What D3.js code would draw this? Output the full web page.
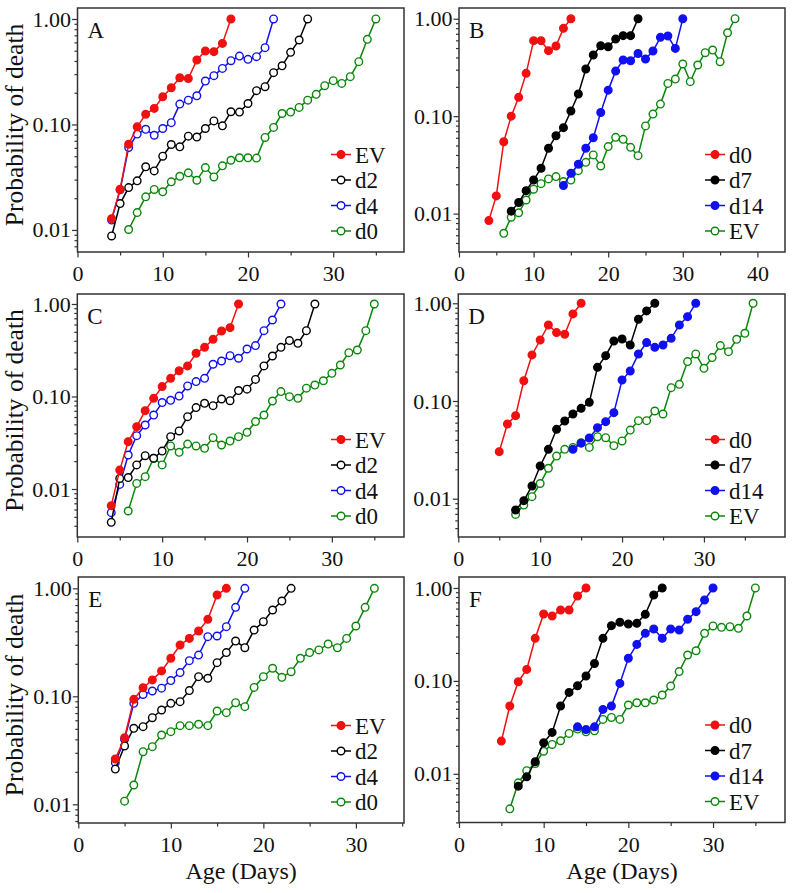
<!DOCTYPE html>
<html>
<head>
<meta charset="utf-8">
<script src="https://cdn.jsdelivr.net/npm/d3@7"></script>
<style>
  body { margin: 0; background: #fff; }
  text { font-family: "Liberation Serif", "Times New Roman", serif; fill: #111; }
</style>
</head>
<body>
<svg width="794" height="893"></svg>
<script>
// probability of death by age (days); each series starts at its first day
var A_EV = [0.0128,0.0243,0.065,0.095,0.125,0.142,0.183,0.223,0.277,0.273,0.408,0.497,0.490,0.587,1.00];
var A_d2 = [0.00877,0.0178,0.0252,0.0292,0.0397,0.0363,0.050,0.0646,0.0614,0.0775,0.076,0.0916,0.108,0.097,0.132,0.131,0.158,0.209,0.228,0.31,0.36,0.483,0.632,1.00];
var A_d4 = [0.0124,0.024,0.0605,0.081,0.090,0.079,0.0916,0.104,0.156,0.170,0.187,0.258,0.290,0.340,0.402,0.445,0.414,0.439,0.535,1.00];
var A_d0 = [0.0101,0.0146,0.0206,0.0242,0.023,0.0286,0.0323,0.0348,0.0296,0.039,0.0318,0.0405,0.0458,0.0483,0.0483,0.048,0.0753,0.0937,0.127,0.131,0.145,0.170,0.193,0.233,0.26,0.245,0.284,0.394,0.641,1.00];

var B_d0 = [0.00848,0.0152,0.0547,0.100,0.156,0.275,0.595,0.595,0.47,0.525,0.796,1.00];
var B_d7 = [0.0106,0.013,0.0172,0.0221,0.0292,0.0468,0.063,0.0762,0.113,0.169,0.305,0.424,0.528,0.516,0.618,0.67,0.67,1.00];
var B_d14 = [0.0194,0.0259,0.0321,0.0468,0.06,0.109,0.185,0.29,0.377,0.37,0.44,0.386,0.466,0.644,0.664,0.496,1.00];
var B_EV = [0.00628,0.00918,0.0102,0.0138,0.0178,0.0203,0.0227,0.024,0.0213,0.0221,0.0276,0.0336,0.04,0.0308,0.0487,0.0606,0.0578,0.0479,0.0393,0.0794,0.105,0.133,0.217,0.24,0.343,0.226,0.335,0.448,0.477,0.362,0.718,1.00];

var C_EV = [0.0066,0.016,0.0325,0.0472,0.0703,0.0955,0.128,0.157,0.19,0.214,0.293,0.34,0.415,0.511,0.555,1.00];
var C_d2 = [0.00436,0.013,0.0133,0.0182,0.0229,0.0215,0.0257,0.0368,0.0424,0.0605,0.0758,0.0844,0.0796,0.094,0.090,0.116,0.12,0.153,0.214,0.274,0.34,0.402,0.376,0.515,1.00];
var C_d4 = [0.00555,0.0112,0.0233,0.0377,0.0492,0.063,0.086,0.091,0.101,0.13,0.145,0.157,0.223,0.242,0.276,0.259,0.326,0.355,0.515,0.671,1.00];
var C_d0 = [0.00578,0.0115,0.0136,0.0215,0.0182,0.0292,0.0249,0.0306,0.0292,0.0275,0.0359,0.0299,0.033,0.0368,0.041,0.0535,0.063,0.0894,0.113,0.0996,0.0955,0.123,0.133,0.148,0.178,0.219,0.298,0.318,0.515,1.00];

var D_d0 = [0.0303,0.0582,0.0708,0.161,0.296,0.421,0.6,0.501,0.482,0.778,1.00];
var D_d7 = [0.00766,0.00955,0.0135,0.0216,0.032,0.0513,0.0624,0.0736,0.0841,0.0969,0.221,0.291,0.411,0.431,0.374,0.686,0.835,1.00];
var D_d14 = [0.032,0.037,0.0418,0.0533,0.0614,0.076,0.164,0.203,0.303,0.396,0.354,0.374,0.438,0.6,0.73,1.00];
var D_EV = [0.00691,0.0086,0.0105,0.0143,0.0205,0.0273,0.032,0.0335,0.0374,0.0335,0.0431,0.0421,0.0349,0.039,0.0504,0.0629,0.0629,0.079,0.0736,0.137,0.148,0.253,0.303,0.216,0.278,0.369,0.32,0.428,0.493,1.00];

var E_EV = [0.0263,0.0414,0.0938,0.12,0.142,0.172,0.225,0.299,0.344,0.403,0.516,0.868,1.00];
var E_d2 = [0.0212,0.0347,0.0506,0.0524,0.0634,0.0747,0.0861,0.0893,0.113,0.152,0.147,0.205,0.254,0.325,0.282,0.411,0.491,0.63,0.763,1.00];
var E_d4 = [0.0243,0.04,0.0861,0.104,0.112,0.119,0.14,0.166,0.214,0.241,0.357,0.362,0.442,0.667,1.00];
var E_d0 = [0.0107,0.0151,0.0307,0.0342,0.0438,0.0471,0.0535,0.0535,0.0551,0.0535,0.0731,0.0706,0.0873,0.0802,0.121,0.152,0.182,0.15,0.169,0.225,0.254,0.269,0.305,0.282,0.344,0.448,0.667,1.00];

var F_d0 = [0.0225,0.0536,0.098,0.133,0.287,0.525,0.499,0.579,0.579,0.82,1.00];
var F_d7 = [0.00736,0.00928,0.0135,0.0216,0.0279,0.0536,0.0751,0.0887,0.113,0.154,0.287,0.393,0.427,0.409,0.416,0.52,0.841,1.00];
var F_d14 = [0.032,0.030,0.032,0.0493,0.0536,0.094,0.175,0.247,0.325,0.362,0.287,0.362,0.353,0.46,0.556,0.743,1.00];
var F_EV = [0.0042,0.008,0.0108,0.0129,0.0175,0.0207,0.0227,0.0272,0.0303,0.0283,0.029,0.0385,0.0404,0.0385,0.055,0.0582,0.0582,0.0622,0.0704,0.0879,0.126,0.19,0.211,0.325,0.39,0.377,0.383,0.368,0.499,1.00];

var yTickValues = [0.01, 0.1, 1];
var yTickLabels = ['0.01', '0.10', '1.00'];

var RED = '#f01010', BLACK = '#000', BLUE = '#1010f0', GREEN = '#0a870a';

// legend order; series are drawn in reverse so the first one sits on top
var panels = [
  { id: 'A', box: [77.5, 8, 404, 252], xMax: 38.3, yLog: [-2.209, 0.104], xTicks: [0,10,20,30], legX: 63,
    series: [
      { name: 'EV', start: 4, values: A_EV, color: RED, filled: true },
      { name: 'd2', start: 4, values: A_d2, color: BLACK, filled: false },
      { name: 'd4', start: 4, values: A_d4, color: BLUE, filled: false },
      { name: 'd0', start: 6, values: A_d0, color: GREEN, filled: false }] },
  { id: 'B', box: [459, 8, 785, 252], xMax: 43.7, yLog: [-2.394, 0.11], xTicks: [0,10,20,30,40], legX: 70,
    series: [
      { name: 'd0', start: 4, values: B_d0, color: RED, filled: true },
      { name: 'd7', start: 7, values: B_d7, color: BLACK, filled: true },
      { name: 'd14', start: 14, values: B_d14, color: BLUE, filled: true },
      { name: 'EV', start: 6, values: B_EV, color: GREEN, filled: false }] },
  { id: 'C', box: [77.3, 294, 404, 537], xMax: 38.5, yLog: [-2.519, 0.108], xTicks: [0,10,20,30], legX: 63,
    series: [
      { name: 'EV', start: 4, values: C_EV, color: RED, filled: true },
      { name: 'd2', start: 4, values: C_d2, color: BLACK, filled: false },
      { name: 'd4', start: 4, values: C_d4, color: BLUE, filled: false },
      { name: 'd0', start: 6, values: C_d0, color: GREEN, filled: false }] },
  { id: 'D', box: [458.3, 294, 785, 537], xMax: 39.9, yLog: [-2.392, 0.095], xTicks: [0,10,20,30], legX: 70,
    series: [
      { name: 'd0', start: 5, values: D_d0, color: RED, filled: true },
      { name: 'd7', start: 7, values: D_d7, color: BLACK, filled: true },
      { name: 'd14', start: 14, values: D_d14, color: BLUE, filled: true },
      { name: 'EV', start: 7, values: D_EV, color: GREEN, filled: false }] },
  { id: 'E', box: [78.3, 577, 404, 823], xMax: 35.2, yLog: [-2.173, 0.105], xTicks: [0,10,20,30], legX: 63,
    series: [
      { name: 'EV', start: 4, values: E_EV, color: RED, filled: true },
      { name: 'd2', start: 4, values: E_d2, color: BLACK, filled: false },
      { name: 'd4', start: 4, values: E_d4, color: BLUE, filled: false },
      { name: 'd0', start: 5, values: E_d0, color: GREEN, filled: false }] },
  { id: 'F', box: [459, 577, 785, 822.5], xMax: 38.5, yLog: [-2.524, 0.118], xTicks: [0,10,20,30], legX: 70,
    series: [
      { name: 'd0', start: 5, values: F_d0, color: RED, filled: true },
      { name: 'd7', start: 7, values: F_d7, color: BLACK, filled: true },
      { name: 'd14', start: 14, values: F_d14, color: BLUE, filled: true },
      { name: 'EV', start: 6, values: F_EV, color: GREEN, filled: false }] }
];

var svg = d3.select('svg');
var R = 3.8;

panels.forEach(function(p, pi) {
  var x0 = p.box[0], y0 = p.box[1], x1 = p.box[2], y1 = p.box[3];
  var x = d3.scaleLinear().domain([0, p.xMax]).range([x0, x1]);
  var y = d3.scaleLog().domain([Math.pow(10, p.yLog[0]), Math.pow(10, p.yLog[1])]).range([y1, y0]);
  var g = svg.append('g');

  // minor x ticks every 5 days
  var xMinor = d3.range(5, p.xMax, 10);
  g.append('g').attr('transform', `translate(0,${y1})`)
    .call(d3.axisBottom(x).tickValues(xMinor).tickSize(3.5).tickFormat(''))
    .call(a => a.select('.domain').remove());
  g.append('g').attr('transform', `translate(0,${y1})`)
    .call(d3.axisBottom(x).tickValues(p.xTicks).tickSize(5.5).tickPadding(8).tickFormat(d3.format('d')))
    .call(a => a.select('.domain').remove())
    .call(a => a.selectAll('text').attr('font-size', 22).attr('fill', '#111'));

  // minor y ticks (2..9 per decade)
  var yMinor = [];
  for (var e = -3; e <= 0; e++) for (var k = 2; k <= 9; k++) {
    var v = k * Math.pow(10, e);
    if (Math.log10(v) > p.yLog[0] && Math.log10(v) < p.yLog[1]) yMinor.push(v);
  }
  g.append('g').attr('transform', `translate(${x0},0)`)
    .call(d3.axisLeft(y).tickValues(yMinor).tickSize(3).tickFormat(''))
    .call(a => a.select('.domain').remove());
  g.append('g').attr('transform', `translate(${x0},0)`)
    .call(d3.axisLeft(y).tickValues(yTickValues).tickSize(5.5).tickPadding(1)
      .tickFormat((d, i) => yTickLabels[i]))
    .call(a => a.select('.domain').remove())
    .call(a => a.selectAll('text').attr('font-size', 22).attr('fill', '#111'));

  g.selectAll('.tick line').attr('stroke', '#333').attr('stroke-width', 1.2);

  // frame
  g.append('rect').attr('x', x0).attr('y', y0).attr('width', x1 - x0).attr('height', y1 - y0)
    .attr('fill', 'none').attr('stroke', '#333').attr('stroke-width', 1.5);

  g.append('text').attr('x', x0 + 10).attr('y', y0 + 30).attr('font-size', 23).text(p.id);

  var line = d3.line().x(d => x(d[0])).y(d => y(d[1]));

  p.series.slice().reverse().forEach(function(s) {
    var pts = s.values.map((v, i) => [s.start + i, v]);
    var sg = g.append('g');
    sg.append('path').datum(pts).attr('d', line)
      .attr('fill', 'none').attr('stroke', s.color).attr('stroke-width', 1.5);
    sg.selectAll('circle').data(pts).enter().append('circle')
      .attr('cx', d => x(d[0])).attr('cy', d => y(d[1])).attr('r', R)
      .attr('fill', s.filled ? s.color : '#fff')
      .attr('stroke', s.color).attr('stroke-width', 1.4);
  });

  // legend
  var lx = x1 - p.legX;
  p.series.forEach(function(s, i) {
    var ly = y1 - 97.5 + 25.5 * i;
    var lg = g.append('g');
    lg.append('line').attr('x1', lx - 10).attr('x2', lx + 10).attr('y1', ly).attr('y2', ly)
      .attr('stroke', s.color).attr('stroke-width', 1.5);
    lg.append('circle').attr('cx', lx).attr('cy', ly).attr('r', R)
      .attr('fill', s.filled ? s.color : '#fff').attr('stroke', s.color).attr('stroke-width', 1.4);
    lg.append('text').attr('x', lx + 14).attr('y', ly).attr('dy', '0.35em')
      .attr('font-size', 23).text(s.name);
  });

  if (pi % 2 === 0) {
    svg.append('text')
      .attr('transform', `translate(23,${(y0 + y1) / 2 - 5}) rotate(-90)`)
      .attr('text-anchor', 'middle').attr('font-size', 25.5)
      .text('Probability of death');
  }
  if (pi >= 4) {
    svg.append('text').attr('x', (x0 + x1) / 2).attr('y', 879)
      .attr('text-anchor', 'middle').attr('font-size', 24).text('Age (Days)');
  }
});
</script>
</body>
</html>
